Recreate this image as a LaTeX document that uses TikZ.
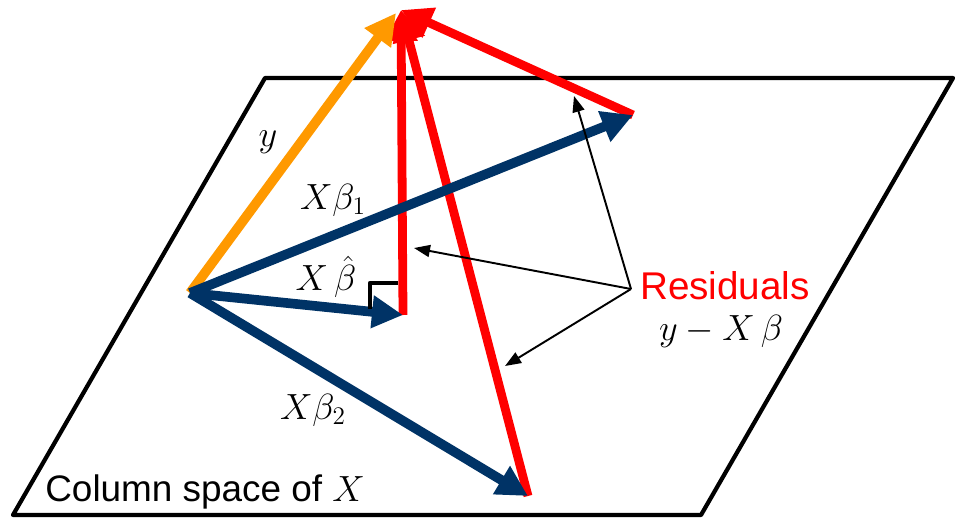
\documentclass[tikz,border=0pt]{standalone}
\usepackage{amsmath,amssymb}
\usepackage[no-math]{fontspec}
\setmainfont{Liberation Sans}
\usetikzlibrary{arrows.meta}
\definecolor{navy}{RGB}{0,51,102}
\definecolor{amber}{RGB}{255,153,0}
\definecolor{resred}{RGB}{255,0,0}

\begin{document}
\begin{tikzpicture}[x=0.02cm, y=-0.02cm, line join=round, font=\fontsize{20}{24}\selectfont,
	every node/.style={inner sep=0pt},
	vec/.style={line width=5.5pt, -{Triangle[length=0.62cm, width=0.62cm]}},
	pointer/.style={line width=1.1pt, -{Triangle[length=0.32cm, width=0.24cm]}}]
	\useasboundingbox (0,0) rectangle (959,520);
	% plane
	\coordinate (P1) at (13,515);
	\coordinate (P2) at (701,515);
	\coordinate (P3) at (953,78);
	\coordinate (P4) at (265,78);
	\draw[line width=2.4pt] (P1) -- (P2) -- (P3) -- (P4) -- cycle;
	% points
	\coordinate (O) at (190,293);
	\coordinate (Y) at (396,13);
	\coordinate (T) at (401,10);
	\coordinate (Bh) at (403,315);
	\coordinate (B1) at (633,115);
	\coordinate (B2) at (528,496);
	% residuals
	\draw[vec, resred, line width=5pt] (Bh) -- (T);
	\draw[vec, resred, line width=5pt] (B2) -- (T);
	\draw[vec, resred, line width=5pt] (B1) -- (T);
	% y
	\draw[vec, amber] (O) -- (Y);
	% fitted values
	\draw[vec, navy] (O) -- (B1);
	\draw[vec, navy] (O) -- (B2);
	\draw[vec, navy] (O) -- (Bh);
	% right angle
	\draw[line width=2.6pt] (370,309) -- (370,283) -- (398,283);
	% labels
	\node[font=\fontsize{22}{26}\selectfont] (res) at (725,286) {\color{resred}Residuals};
	\node (diff) at (721,331) {$y - X\,\beta$};
	\coordinate (R) at (631,289);
	\draw[pointer] (R) -- (574,96);
	\draw[pointer] (R) -- (414,248);
	\draw[pointer] (R) -- (505,366);
	\node (ly) at (268,142) {$y$};
	\node (lb1) at (333,200) {$X\beta_1$};
	\node (lbh) at (326,277) {$X\,\hat{\beta}$};
	\node (lb2) at (313,410) {$X\beta_2$};
	\node[anchor=west, font=\fontsize{21}{25}\selectfont] (col) at (45,492) {Column space of $X$};
\end{tikzpicture}
\end{document}
